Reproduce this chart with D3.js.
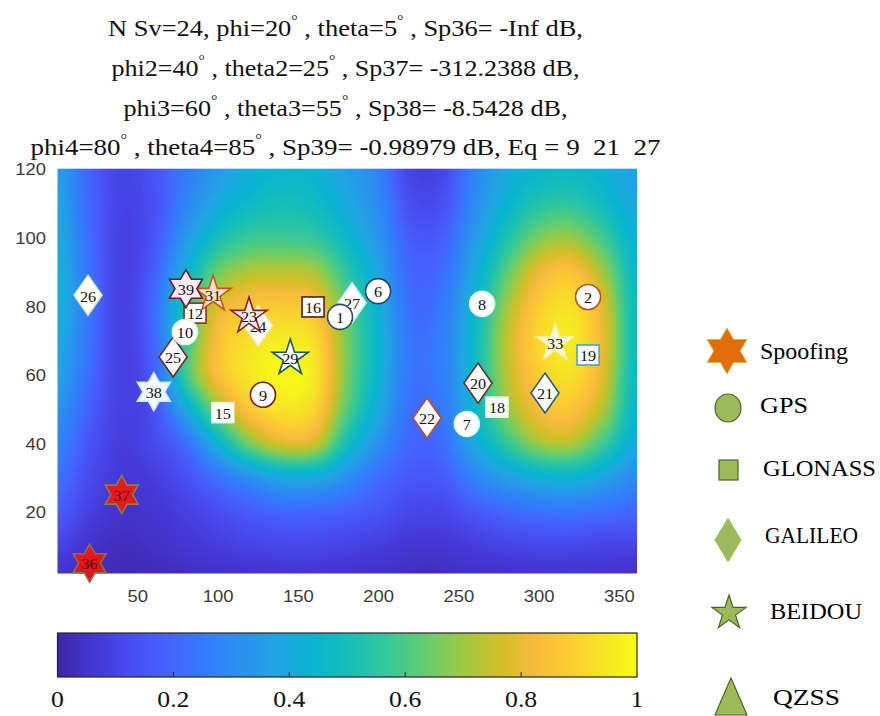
<!DOCTYPE html>
<html><head><meta charset="utf-8">
<script src="https://cdn.jsdelivr.net/npm/d3@7"></script>
<style>body{margin:0;background:#fff}svg{display:block}</style>
</head><body>
<svg id="chart" width="880" height="716"></svg>
<script>
// ---------------- data ----------------
const xTicks = [50, 100, 150, 200, 250, 300, 350];
const yTicks = [20, 40, 60, 80, 100, 120];
const cbTicks = [0, 0.2, 0.4, 0.6, 0.8, 1];
const cbTickLabels = ["0", "0.2", "0.4", "0.6", "0.8", "1"];

// background field: azimuth (x) every 20, elevation (y) every 10
const fieldAz = [0,20,40,60,80,100,120,140,160,180,200,220,240,260,280,300,320,340,360];
const fieldEl = [0,10,20,30,40,50,60,70,80,90,100,110,120];
const fieldY0   = [.04,.03,.02,.02,.03,.04,.04,.05,.05,.04,.04,.03,.03,.04,.04,.05,.05,.05,.04];
const fieldY10  = [.10,.05,.03,.04,.06,.08,.10,.11,.11,.10,.08,.06,.06,.08,.10,.11,.11,.10,.10];
const fieldY20  = [.17,.09,.05,.06,.09,.13,.17,.20,.20,.18,.15,.11,.11,.16,.20,.23,.24,.22,.20];
const fieldY30  = [.23,.12,.07,.08,.14,.23,.32,.40,.40,.32,.22,.16,.17,.28,.36,.42,.44,.38,.30];
const fieldY40  = [.28,.15,.08,.12,.22,.44,.66,.78,.76,.50,.32,.20,.22,.40,.56,.70,.72,.58,.40];
const fieldY50  = [.33,.18,.09,.14,.40,.68,.87,.94,.90,.62,.40,.22,.25,.45,.68,.83,.86,.72,.45];
const fieldY60  = [.38,.21,.09,.18,.58,.84,.95,.99,.95,.66,.43,.24,.27,.47,.73,.88,.93,.78,.47];
const fieldY70  = [.40,.23,.09,.20,.56,.84,.93,.96,.92,.66,.44,.24,.27,.47,.74,.91,.96,.80,.48];
const fieldY80  = [.42,.24,.09,.21,.53,.78,.86,.87,.84,.63,.42,.22,.25,.45,.70,.88,.93,.78,.48];
const fieldY90  = [.42,.23,.09,.18,.43,.64,.72,.73,.71,.55,.38,.20,.22,.40,.62,.80,.85,.70,.46];
const fieldY100 = [.40,.21,.09,.15,.34,.50,.57,.58,.56,.46,.33,.17,.18,.35,.52,.66,.69,.58,.43];
const fieldY110 = [.38,.20,.10,.14,.28,.40,.47,.50,.48,.40,.30,.13,.14,.30,.44,.53,.55,.48,.39];
const fieldY120 = [.36,.19,.10,.15,.25,.35,.42,.45,.44,.36,.28,.10,.11,.28,.40,.45,.46,.43,.36];
const fieldRows = [fieldY0,fieldY10,fieldY20,fieldY30,fieldY40,fieldY50,fieldY60,fieldY70,fieldY80,fieldY90,fieldY100,fieldY110,fieldY120];

// satellites (azimuth, elevation)
const gpsIds = [1, 2, 6, 7, 8, 9, 10];
const gpsAz  = [176, 330.5, 199.7, 255, 264.5, 128, 79.4];
const gpsEl  = [76.8, 82.6, 84.3, 45.6, 80.6, 54.1, 72.4];

const glonassIds = [12, 15, 16, 18, 19];
const glonassAz  = [85.7, 103, 159.2, 273.8, 330.5];
const glonassEl  = [77.9, 48.9, 79.7, 50.5, 65.7];

const galileoIds = [20, 21, 22, 24, 25, 26, 27];
const galileoAz  = [262, 303.7, 230.2, 125, 72, 19, 183.5];
const galileoEl  = [57.5, 54.6, 47.3, 74.2, 65.1, 83.1, 80.9];

const beidouIds = [23, 29, 31, 33];
const beidouAz  = [119.3, 145, 96.9, 310];
const beidouEl  = [77, 64.8, 83.4, 69.2];

const spoofIds = [36, 37, 38, 39];
const spoofAz  = [20, 40, 60, 80];
const spoofEl  = [5, 25, 55, 85];

const legendLabels = ["Spoofing", "GPS", "GLONASS", "GALILEO", "BEIDOU", "QZSS"];

// title parts: [text, isSuperscript]
const titleLine1 = [["N Sv=24, phi=20",0],["°",1],[" , theta=5",0],["°",1],[" , Sp36= -Inf dB,",0]];
const titleLine2 = [["phi2=40",0],["°",1],[" , theta2=25",0],["°",1],[" , Sp37= -312.2388 dB,",0]];
const titleLine3 = [["phi3=60",0],["°",1],[" , theta3=55",0],["°",1],[" , Sp38= -8.5428 dB,",0]];
const titleLine4 = [["phi4=80",0],["°",1],[" , theta4=85",0],["°",1],[" , Sp39= -0.98979 dB, Eq = 9  21  27",0]];

// ---------------- styles ----------------
const parulaAnchors = [
 [0.2422,0.1504,0.6603],[0.2706,0.2147,0.8364],[0.2813,0.3006,0.9414],[0.2699,0.3892,0.9906],
 [0.1963,0.4847,0.9892],[0.1687,0.5703,0.9359],[0.1248,0.6459,0.8883],[0.0297,0.7082,0.8163],
 [0.0964,0.7500,0.7120],[0.2161,0.7843,0.5923],[0.3909,0.8029,0.4354],[0.6174,0.7876,0.2612],
 [0.8203,0.7498,0.1535],[0.9728,0.7298,0.2394],[0.9892,0.8136,0.1885],[0.9597,0.9135,0.1423],
 [0.9769,0.9839,0.0805]];
const parulaIdx = [0,4,8,12,16,20,24,28,32,36,40,44,48,52,56,60,63];
const parula = d3.scaleLinear()
  .domain(parulaIdx.map(i => i / 63))
  .range(parulaAnchors.map(c => d3.rgb(c[0]*255, c[1]*255, c[2]*255).toString()))
  .interpolate(d3.interpolateRgb).clamp(true);

const edgeColor = {
  1:"#2c4a78", 2:"#b5521c", 6:"#2a3f66", 7:"#d8f4f0", 8:"#e0f2f8", 9:"#7a1a14", 10:"#dff3f5",
  12:"#8a2a1a", 15:"#f4f0e8", 16:"#4a2418", 18:"#e8f4e0", 19:"#4ea4bd",
  20:"#6e2a1c", 21:"#2a6470", 22:"#c24a28", 24:"#f2ece0", 25:"#7a2424", 26:"#d6e4b0", 27:"#cdeef8",
  23:"#8a1e1e", 29:"#1c5a5c", 31:"#c8561a", 33:"#fff2b8",
  36:"#8a7040", 37:"#8a7a50", 38:"#c8ecff", 39:"#6e1a2a"
};
const fillColor = {31:"#fde3c8", 33:"#fff9dc", 23:"#fbe9ec", 36:"#e8161c", 37:"#e41a1c", 38:"#f3fbff", 39:"#fcecf2"};

const serif = "'Liberation Serif','Times New Roman',serif";
const sans = "'Liberation Sans',Arial,Helvetica,sans-serif";

// ---------------- scales ----------------
const svg = d3.select("#chart");
const x = d3.scaleLinear().domain([0, 361]).range([57.5, 637]);
const y = d3.scaleLinear().domain([2, 120]).range([573.5, 168.7]);
const cbScale = d3.scaleLinear().domain([0, 1]).range([57.5, 637]);

// ---------------- background field ----------------
function cubic(p0, p1, p2, p3, t) {
  return p1 + 0.5 * t * (p2 - p0 + t * (2*p0 - 5*p1 + 4*p2 - p3 + t * (3*(p1 - p2) + p3 - p0)));
}
function fieldAt(az, el) {
  const fx = az / (fieldAz[1] - fieldAz[0]), fy = el / (fieldEl[1] - fieldEl[0]);
  const i = Math.floor(fx), j = Math.floor(fy), tx = fx - i, ty = fy - j;
  const nx = fieldAz.length - 1, ny = fieldEl.length - 1;
  const g = (ii, jj) => fieldRows[Math.max(0, Math.min(ny, jj))][Math.max(0, Math.min(nx, ii))];
  const c = [];
  for (let m = -1; m <= 2; m++) c.push(cubic(g(i-1, j+m), g(i, j+m), g(i+1, j+m), g(i+2, j+m), tx));
  return Math.max(0, Math.min(1, cubic(c[0], c[1], c[2], c[3], ty)));
}
const lut = d3.range(256).map(k => d3.rgb(parula(k / 255)));
const px0 = x.range()[0], px1 = x.range()[1], py0 = y.range()[1], py1 = y.range()[0];
const W = Math.round(px1 - px0), H = Math.round(py1 - py0);
const cv = document.createElement("canvas");
cv.width = W; cv.height = H;
const ctx = cv.getContext("2d");
const im = ctx.createImageData(W, H);
for (let j = 0; j < H; j++) {
  const el = y.invert(py0 + (j + 0.5) * (py1 - py0) / H);
  for (let i = 0; i < W; i++) {
    const az = x.invert(px0 + (i + 0.5) * (px1 - px0) / W);
    const c = lut[Math.round(fieldAt(az, el) * 255)];
    const k = (j * W + i) * 4;
    im.data[k] = c.r; im.data[k+1] = c.g; im.data[k+2] = c.b; im.data[k+3] = 255;
  }
}
ctx.putImageData(im, 0, 0);
svg.append("image").attr("href", cv.toDataURL())
  .attr("x", px0).attr("y", py0).attr("width", px1 - px0).attr("height", py1 - py0)
  .attr("preserveAspectRatio", "none");

// ---------------- helpers ----------------
function stext(parent, px, py, str, o) {
  return parent.append("text")
    .attr("transform", `translate(${px},${py}) scale(${o.sx || 1},1)`)
    .attr("text-anchor", o.anchor || "middle")
    .attr("dominant-baseline", "central")
    .attr("font-family", o.family || serif)
    .attr("font-size", o.size || 14)
    .attr("fill", o.fill || "#000")
    .text(str);
}
function hexagramPath(R) {
  const r = R / Math.sqrt(3), pts = [];
  for (let k = 0; k < 12; k++) {
    const a = -Math.PI / 2 + k * Math.PI / 6, rr = k % 2 === 0 ? R : r;
    pts.push([rr * Math.cos(a), rr * Math.sin(a)]);
  }
  return "M" + pts.map(p => p[0].toFixed(2) + "," + p[1].toFixed(2)).join("L") + "Z";
}
function diamondPath(w, h) { return `M0,${-h/2}L${w/2},0L0,${h/2}L${-w/2},0Z`; }
const star5 = R => d3.symbol(d3.symbolStar, R * R / 0.8908130915292852)();

// ---------------- axes tick labels ----------------
const axG = svg.append("g");
yTicks.forEach(t => stext(axG, 46, y(t) + 1, String(t), {anchor: "end", family: sans, size: 16.5, fill: "#3c3c3c", sx: 1.12}));
xTicks.forEach(t => stext(axG, x(t), 596, String(t), {family: sans, size: 16.5, fill: "#3c3c3c", sx: 1.12}));

// ---------------- markers ----------------
const mk = svg.append("g");
function drawSet(ids, az, el, shape) {
  ids.forEach((id, i) => {
    const g = mk.append("g").attr("transform", `translate(${x(az[i])},${y(el[i])})`);
    const stroke = edgeColor[id] || "#333", fill = fillColor[id] || "#ffffff";
    if (shape === "circle") g.append("circle").attr("r", 12.5);
    else if (shape === "square") g.append("rect").attr("x", -11).attr("y", -10).attr("width", 22).attr("height", 20);
    else if (shape === "diamond") g.append("path").attr("d", diamondPath(28, 40));
    else if (shape === "star") g.append("path").attr("d", star5(19));
    else if (shape === "hex") g.append("path").attr("d", hexagramPath(19));
    g.select(":first-child").attr("fill", fill).attr("stroke", stroke).attr("stroke-width", 1.6);
    stext(g, 0, 1, String(id), {size: 15, sx: 1.08, fill: (id === 36 || id === 37) ? "#3a0808" : "#111"});
  });
}
drawSet(galileoIds, galileoAz, galileoEl, "diamond");
drawSet(glonassIds, glonassAz, glonassEl, "square");
drawSet(gpsIds, gpsAz, gpsEl, "circle");
drawSet(beidouIds, beidouAz, beidouEl, "star");
drawSet(spoofIds, spoofAz, spoofEl, "hex");

// ---------------- title ----------------
const titleLines = [titleLine1, titleLine2, titleLine3, titleLine4];
const titleWidths = [475, 468, 444, 630];
const titleBase = [36, 76, 116, 155];
titleLines.forEach((parts, li) => {
  const t = svg.append("text")
    .attr("x", 345.5).attr("y", titleBase[li])
    .attr("text-anchor", "middle")
    .attr("font-family", serif).attr("font-size", 23).attr("fill", "#111")
    .attr("textLength", titleWidths[li]).attr("lengthAdjust", "spacingAndGlyphs")
    .style("white-space", "pre");
  let up = false;
  parts.forEach(([s, sup]) => {
    const ts = t.append("tspan").text(s);
    if (sup && !up) { ts.attr("dy", -11).attr("font-size", 14); up = true; }
    else if (!sup && up) { ts.attr("dy", 11); up = false; }
  });
});

// ---------------- colorbar ----------------
const defs = svg.append("defs");
const grad = defs.append("linearGradient").attr("id", "cbgrad").attr("x1", 0).attr("x2", 1).attr("y1", 0).attr("y2", 0);
d3.range(0, 1.0001, 1 / 64).forEach(v => grad.append("stop").attr("offset", v).attr("stop-color", parula(v)));
const cbTop = 633, cbBot = 677;
svg.append("rect").attr("x", cbScale(0)).attr("y", cbTop).attr("width", cbScale(1) - cbScale(0)).attr("height", cbBot - cbTop)
  .attr("fill", "url(#cbgrad)").attr("stroke", "#262626").attr("stroke-width", 1.2);
const cbG = svg.append("g");
cbTicks.forEach((t, i) => {
  if (t > 0 && t < 1) cbG.append("line").attr("x1", cbScale(t)).attr("x2", cbScale(t)).attr("y1", cbBot).attr("y2", cbBot - 5).attr("stroke", "#262626").attr("stroke-width", 1);
  stext(cbG, cbScale(t), 699, cbTickLabels[i], {size: 23, sx: 1.12, fill: "#111"});
});

// ---------------- legend ----------------
const lg = svg.append("g");
const legY = [351, 405, 468, 535, 611, 697];
const legTextX = [760, 760, 763, 765, 770, 773];
const legTextW = [88, 48, 113, 93, 92, 67];
const legFill = "#9bbb59", legStroke = "#4f6228";
lg.append("path").attr("d", hexagramPath(23)).attr("transform", `translate(727,${legY[0]})`)
  .attr("fill", "#e46c0a").attr("stroke", "#c4c24a").attr("stroke-width", 1);
lg.append("ellipse").attr("cx", 728).attr("cy", legY[1] + 3).attr("rx", 13).attr("ry", 14)
  .attr("fill", legFill).attr("stroke", legStroke).attr("stroke-width", 1.2);
lg.append("rect").attr("x", 719).attr("y", legY[2] - 8).attr("width", 19).attr("height", 20)
  .attr("fill", legFill).attr("stroke", legStroke).attr("stroke-width", 1.2);
lg.append("path").attr("d", diamondPath(27, 45)).attr("transform", `translate(728,${legY[3] + 5})`)
  .attr("fill", legFill).attr("stroke", "none");
lg.append("path").attr("d", star5(18)).attr("transform", `translate(729,${legY[4] + 2})`)
  .attr("fill", legFill).attr("stroke", legStroke).attr("stroke-width", 1.2);
lg.append("path").attr("d", "M731,678L747,715L715,715Z")
  .attr("fill", legFill).attr("stroke", legStroke).attr("stroke-width", 1.2);
legendLabels.forEach((s, i) => {
  lg.append("text").attr("x", legTextX[i]).attr("y", legY[i]).attr("dominant-baseline", "central")
    .attr("font-family", serif).attr("font-size", 23).attr("fill", "#000")
    .attr("textLength", legTextW[i]).attr("lengthAdjust", "spacingAndGlyphs").text(s);
});
</script>
</body></html>
